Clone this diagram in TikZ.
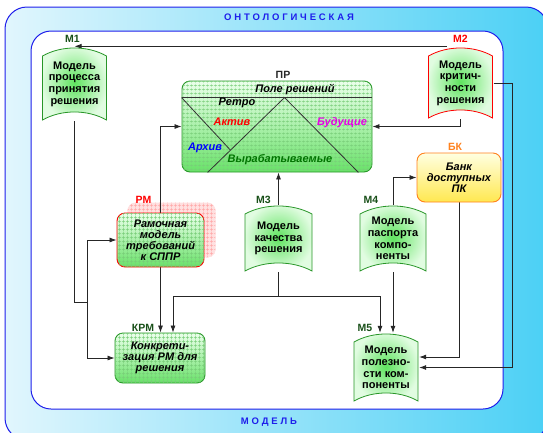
\documentclass[tikz,border=0pt]{standalone}
\usepackage{fontspec}
\setmainfont{Liberation Sans}
\newfontfamily\spacedfont[LetterSpace=30]{Liberation Sans}
\usetikzlibrary{positioning,calc,arrows.meta,patterns.meta}
\pgfdeclarelayer{back}
\pgfdeclarelayer{wires}
\pgfsetlayers{back,wires,main}
\definecolor{framebl}{RGB}{30,30,235}
\definecolor{skyl}{RGB}{225,246,253}
\definecolor{skyr}{RGB}{75,208,245}
\definecolor{gborder}{RGB}{40,150,40}
\definecolor{gdark}{RGB}{25,80,25}
\definecolor{gfill}{RGB}{105,225,105}
\definecolor{gpale}{RGB}{235,255,235}
\definecolor{ggrid}{RGB}{120,205,120}
\definecolor{docin}{RGB}{95,228,95}
\definecolor{docout}{RGB}{225,252,225}
\definecolor{bkorange}{RGB}{255,130,30}
\definecolor{bktop}{RGB}{255,255,225}
\definecolor{bkbot}{RGB}{255,232,80}
\definecolor{fmag}{RGB}{230,0,230}

\begin{document}
\begin{tikzpicture}[x=1pt,y=-1pt]
    \tikzstyle{lbl} = [font=\bfseries\fontsize{10.5}{11}\selectfont, inner sep=1pt]
    \tikzstyle{ttl} = [font=\spacedfont\bfseries\fontsize{9.5}{10}\selectfont, text=framebl]
    \tikzstyle{box} = [rounded corners=8pt, line width=0.9pt, align=center, inner sep=0pt,
        font=\bfseries\itshape\fontsize{11}{11}\selectfont]
    \tikzstyle{gridbox} = [box, top color=gpale, bottom color=gfill,
        postaction={pattern={Hatch[distance=4pt,line width=0.35pt]}, pattern color=ggrid}]
    \tikzstyle{prtxt} = [font=\bfseries\itshape\fontsize{11}{11}\selectfont, inner sep=1pt]
    \tikzstyle{prline} = [line width=0.8pt, black!80]
    \tikzstyle{arr} = [-{Latex[length=7pt,width=5pt]}, line width=0.8pt, black!85]
    \tikzstyle{wire} = [line width=0.8pt, black!85]
    \tikzset{doc/.style={minimum width=66pt, inner sep=0pt, align=center,
        font=\bfseries\fontsize{11}{11.7}\selectfont,
        path picture={
            \def\bb{path picture bounding box}
            \shade[inner color=docin, outer color=docout, draw=#1, line width=0.8pt]
                ($(\bb.north west)+(1pt,-9pt)$)
                .. controls ($(\bb.north west)!0.3!(\bb.north east)+(0pt,1.7pt)$)
                and ($(\bb.north west)!0.7!(\bb.north east)+(0pt,1.7pt)$) .. ($(\bb.north east)+(-1pt,-9pt)$)
                -- ($(\bb.south east)+(-1pt,1pt)$)
                .. controls ($(\bb.south west)!0.7!(\bb.south east)+(0pt,11.7pt)$)
                and ($(\bb.south west)!0.3!(\bb.south east)+(0pt,11.7pt)$) .. ($(\bb.south west)+(1pt,1pt)$)
                -- cycle;
        }}}

    \useasboundingbox (0,0) rectangle (543,432);

    % models
    \node[doc=gborder, minimum height=74pt] (m1) at (74.5,84) {Модель\\процесса\\принятия\\решения};
    \node[doc=red, minimum height=72pt] (m2) at (460.5,83) {Модель\\критич-\\ности\\решения};
    \node[doc=gborder, minimum width=69pt, minimum height=67pt] (m3) at (278.5,238.5) {Модель\\качества\\решения};
    \node[doc=gborder, minimum width=68pt, minimum height=67pt] (m4) at (393,238.5) {Модель\\паспорта\\компо-\\ненты};
    \node[doc=gborder, minimum height=69pt] (m5) at (386,367.5) {Модель\\полезно-\\сти ком-\\поненты};

    % boxes
    \node[gridbox, draw=gborder, minimum width=190pt, minimum height=91pt] (pr) at (277,126.5) {};
    \node[box, draw=bkorange, top color=bktop, bottom color=bkbot,
        minimum width=84pt, minimum height=49pt] (bk) at (459,177.5) {Банк\\доступных\\ПК};
    \node[gridbox, draw=red, minimum width=87pt, minimum height=54pt] (rm) at (160.5,240) {Рамочная\\модель\\требований\\к СППР};
    \node[gridbox, draw=gborder, minimum width=90pt, minimum height=50pt] (krm) at (160,358) {Конкрети-\\зация РМ для\\решения};

    % decision field
    \coordinate (hl) at ([yshift=-17pt]pr.north west);
    \coordinate (hr) at ([yshift=-17pt]pr.north east);
    \coordinate (apex) at ([xshift=103pt]hl);
    \coordinate (b1) at ([xshift=26pt]pr.south west);
    \coordinate (b2) at ([xshift=-14pt]pr.south east);
    \coordinate (cross) at ($(b1)!0.2976!(apex)$);
    \draw[prline] (hl) -- (hr);
    \draw[prline] (hl) -- (cross);
    \draw[prline] (b1) -- (apex) -- (b2);
    \node[prtxt] (hdr) at (295,90) {Поле решений};
    \node[prtxt] (retro) at (237,103) {Ретро};
    \node[prtxt, text=red] (aktiv) at (232,122) {Актив};
    \node[prtxt, text=blue] (arkhiv) at (205,148) {Архив};
    \node[prtxt, text=fmag] (bud) at (342,123) {Будущие};
    \node[prtxt, text=green!45!black] (vyrab) at (280,160) {Вырабатываемые};

    % labels
    \node[lbl, text=gdark, above=3pt of m1, xshift=-2pt] (m1l) {М1};
    \node[lbl, text=red, above=3pt of m2] (m2l) {М2};
    \node[lbl, text=gdark, above=0pt of m3, xshift=-15pt] (m3l) {М3};
    \node[lbl, text=gdark, above=0pt of m4, xshift=-22pt] (m4l) {М4};
    \node[lbl, text=gdark, above=0pt of m5, xshift=-21pt] (m5l) {М5};
    \node[lbl, text=black!85, above=1pt of pr, xshift=6pt] (prl) {ПР};
    \node[lbl, text=red, above=8pt of rm, xshift=-17pt] (rml) {РМ};
    \node[lbl, text=gdark, above=0pt of krm, xshift=-17pt] (krml) {КРМ};
    \node[lbl, text=bkorange, above=1pt of bk, xshift=-4pt] (bkl) {БК};

    % frames
    \begin{pgfonlayer}{back}
    \shade[left color=skyl, middle color=skyl!70!skyr, right color=skyr, draw=framebl, line width=1pt,
        rounded corners=22pt] (5,7) rectangle (548,440);
    \filldraw[fill=white, draw=framebl, line width=1pt, rounded corners=20pt] (31,31) rectangle (503,409);
    \fill[rounded corners=8pt, red!12, postaction={pattern={Hatch[distance=4pt,line width=0.35pt]}, pattern color=red!35}]
        ([shift={(11pt,10pt)}]rm.north west) rectangle ([shift={(11pt,10pt)}]rm.south east);
    \end{pgfonlayer}
    \node[ttl] (onto) at (289,17) {ОНТОЛОГИЧЕСКАЯ};
    \node[ttl] (model) at (269,422) {МОДЕЛЬ};

    % links
    \begin{pgfonlayer}{wires}
    \draw[arr] ([xshift=-14pt,yshift=0.5pt]m2.north) -- ([yshift=0.5pt]m1.north);
    \draw[arr] (m2.south) |- (pr.east);
    \draw[arr] (m2.east) -- ++(19,0) |- (m5.east);
    \draw[arr] (bk.south) |- ([yshift=10.5pt]m5.east);
    \draw[arr] (m4.north) |- (bk.west);
    \draw[arr] (m4.south) -- (m4.south |- m5.north);
    \draw[arr] (m3.north) -- (m3.north |- pr.south);
    \draw[wire] (m3.south) -- ++(0,24) coordinate (m3b);
    \draw[arr] (m3b) -| ([xshift=13pt]krm.north);
    \draw[arr] (m3b) -| ([xshift=-6pt]m5.north);
    \draw[arr] (rm.north) |- (pr.west);
    \draw[arr] (rm.south) -- (rm.south |- krm.north);
    \draw[wire] (m1.south) -- ++(0,181) -- ++(12.5,0) coordinate (m1c);
    \draw[arr] (m1c) |- (rm.west);
    \draw[arr] (m1c) |- (krm.west);
    \end{pgfonlayer}
\end{tikzpicture}
\end{document}
